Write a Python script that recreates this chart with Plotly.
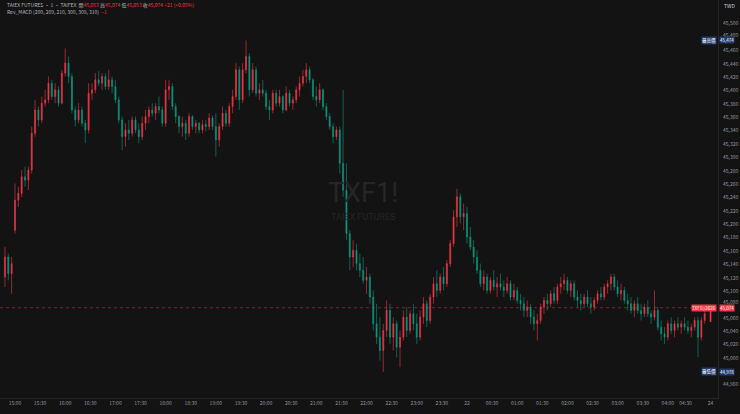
import plotly.graph_objects as go

# ---------------- data ----------------
# bar time positions, in minutes from 15:00 of the night session
pre_minutes = [-12, -8, -4]            # tail of the day session
night_minutes = list(range(0, 825, 4))  # night session, 4-minute candles
day_minutes = [831]                     # first bar of the 24th

pre_open = [45120, 45150, 45125]
pre_high = [45165, 45155, 45150]
pre_low = [45105, 45115, 45095]
pre_close = [45150, 45125, 45140]

night_open = [
    45190, 45235, 45245, 45270, 45265, 45280, 45335, 45370, 45355, 45380,
    45385, 45410, 45390, 45400, 45380, 45425, 45440, 45420, 45370, 45355,
    45370, 45350, 45340, 45395, 45400, 45415, 45410, 45420, 45405, 45415,
    45405, 45385, 45355, 45330, 45340, 45335, 45355, 45340, 45330, 45350,
    45360, 45370, 45365, 45375, 45370, 45350, 45400, 45405, 45375, 45360,
    45345, 45350, 45335, 45360, 45345, 45350, 45340, 45348, 45345, 45358,
    45345, 45325, 45345, 45365, 45350, 45375, 45390, 45430, 45385, 45430,
    45450, 45400, 45430, 45395, 45400, 45395, 45375, 45370, 45395, 45380,
    45390, 45370, 45395, 45380, 45385, 45400, 45410, 45420, 45430, 45415,
    45390, 45385, 45400, 45375, 45360, 45345, 45330, 45340, 45290, 45250,
    45185, 45150, 45160, 45140, 45130, 45115, 45120, 45090, 45050, 45030,
    45010, 45040, 45070, 45030, 45050, 45015, 45030, 45060, 45040, 45065,
    45050, 45030, 45060, 45080, 45055, 45090, 45110, 45100, 45120, 45110,
    45140, 45170, 45210, 45240, 45210, 45215, 45180, 45165, 45150, 45130,
    45110, 45120, 45100, 45115, 45105, 45110, 45105, 45100, 45110, 45090,
    45100, 45085, 45080, 45070, 45075, 45060, 45050, 45055, 45075, 45085,
    45080, 45095, 45085, 45105, 45110, 45115, 45100, 45110, 45090, 45085,
    45080, 45090, 45080, 45075, 45085, 45095, 45090, 45105, 45110, 45120,
    45105, 45095, 45100, 45085, 45080, 45070, 45080, 45070, 45065, 45075,
    45065, 45060, 45070, 45045, 45035, 45030, 45050, 45040, 45050, 45045,
    45050, 45045, 45040, 45045, 45055, 45030, 45055,
]
night_high = [
    45260, 45255, 45280, 45285, 45285, 45345, 45385, 45375, 45390, 45400,
    45420, 45415, 45410, 45405, 45430, 45462, 45450, 45425, 45375, 45380,
    45375, 45355, 45410, 45410, 45425, 45428, 45425, 45425, 45430, 45420,
    45415, 45390, 45360, 45350, 45355, 45360, 45360, 45350, 45360, 45370,
    45375, 45380, 45380, 45390, 45375, 45415, 45415, 45410, 45380, 45362,
    45360, 45355, 45365, 45362, 45355, 45352, 45355, 45355, 45365, 45362,
    45365, 45350, 45375, 45370, 45380, 45400, 45440, 45435, 45440, 45474,
    45455, 45440, 45435, 45410, 45415, 45400, 45385, 45400, 45400, 45400,
    45392, 45405, 45400, 45390, 45405, 45420, 45430, 45440, 45435, 45418,
    45405, 45410, 45402, 45380, 45365, 45350, 45345, 45345, 45400, 45290,
    45190, 45175, 45170, 45155, 45150, 45135, 45125, 45100, 45080, 45060,
    45050, 45085, 45080, 45060, 45055, 45040, 45070, 45075, 45070, 45080,
    45065, 45070, 45090, 45085, 45095, 45120, 45130, 45125, 45135, 45145,
    45175, 45220, 45252, 45245, 45230, 45225, 45195, 45175, 45160, 45140,
    45130, 45125, 45120, 45130, 45120, 45125, 45115, 45120, 45115, 45110,
    45105, 45095, 45090, 45085, 45080, 45070, 45065, 45080, 45090, 45095,
    45100, 45105, 45110, 45120, 45125, 45120, 45115, 45115, 45100, 45095,
    45095, 45100, 45090, 45090, 45100, 45105, 45110, 45115, 45125, 45125,
    45115, 45110, 45105, 45095, 45090, 45085, 45090, 45080, 45080, 45085,
    45070, 45100, 45075, 45055, 45045, 45055, 45060, 45055, 45060, 45055,
    45060, 45055, 45050, 45060, 45060, 45060, 45070,
]
night_low = [
    45185, 45225, 45240, 45255, 45250, 45275, 45330, 45345, 45350, 45375,
    45380, 45385, 45380, 45375, 45378, 45420, 45410, 45365, 45345, 45350,
    45345, 45320, 45335, 45385, 45395, 45405, 45400, 45400, 45400, 45395,
    45380, 45350, 45310, 45315, 45325, 45330, 45335, 45320, 45325, 45340,
    45350, 45360, 45355, 45365, 45345, 45345, 45385, 45370, 45350, 45335,
    45330, 45325, 45330, 45340, 45335, 45335, 45335, 45338, 45340, 45340,
    45300, 45315, 45340, 45345, 45345, 45365, 45385, 45370, 45380, 45425,
    45390, 45395, 45390, 45385, 45390, 45370, 45355, 45365, 45375, 45375,
    45365, 45368, 45375, 45370, 45380, 45390, 45405, 45410, 45410, 45385,
    45375, 45380, 45370, 45355, 45340, 45320, 45325, 45275, 45240, 45175,
    45130, 45135, 45130, 45120, 45110, 45095, 45080, 45040, 45020, 44995,
    44978, 45030, 45020, 45010, 45000, 44985, 45025, 45030, 45035, 45040,
    45020, 45025, 45050, 45045, 45050, 45080, 45090, 45095, 45100, 45105,
    45135, 45165, 45195, 45200, 45190, 45170, 45160, 45140, 45125, 45105,
    45100, 45095, 45095, 45100, 45090, 45100, 45090, 45095, 45085, 45085,
    45080, 45070, 45060, 45060, 45050, 45040, 45025, 45050, 45065, 45070,
    45075, 45080, 45080, 45095, 45100, 45095, 45090, 45085, 45075, 45070,
    45075, 45075, 45065, 45070, 45080, 45085, 45085, 45095, 45100, 45100,
    45090, 45085, 45080, 45070, 45065, 45060, 45065, 45055, 45060, 45060,
    45050, 45055, 45040, 45025, 45020, 45025, 45035, 45030, 45040, 45035,
    45040, 45035, 45030, 45040, 45000, 45025, 45050,
]
night_close = [
    45235, 45245, 45270, 45265, 45280, 45335, 45370, 45355, 45380, 45385,
    45410, 45390, 45400, 45380, 45425, 45440, 45420, 45370, 45355, 45370,
    45350, 45340, 45395, 45400, 45415, 45410, 45420, 45405, 45415, 45405,
    45385, 45355, 45330, 45340, 45335, 45355, 45340, 45330, 45350, 45360,
    45370, 45365, 45375, 45370, 45350, 45400, 45405, 45375, 45360, 45345,
    45350, 45335, 45360, 45345, 45350, 45340, 45348, 45345, 45358, 45345,
    45325, 45345, 45365, 45350, 45375, 45390, 45430, 45385, 45430, 45450,
    45400, 45430, 45395, 45400, 45395, 45375, 45370, 45395, 45380, 45390,
    45370, 45395, 45380, 45385, 45400, 45410, 45420, 45430, 45415, 45390,
    45385, 45400, 45375, 45360, 45345, 45330, 45340, 45290, 45250, 45185,
    45150, 45160, 45140, 45130, 45115, 45120, 45090, 45050, 45030, 45010,
    45040, 45070, 45030, 45050, 45015, 45030, 45060, 45040, 45065, 45050,
    45030, 45060, 45080, 45055, 45090, 45110, 45100, 45120, 45110, 45140,
    45170, 45210, 45240, 45210, 45215, 45180, 45165, 45150, 45130, 45110,
    45120, 45100, 45115, 45105, 45110, 45105, 45100, 45110, 45090, 45100,
    45085, 45080, 45070, 45075, 45060, 45050, 45055, 45075, 45085, 45080,
    45095, 45085, 45105, 45110, 45115, 45100, 45110, 45090, 45085, 45080,
    45090, 45080, 45075, 45085, 45095, 45090, 45105, 45110, 45120, 45105,
    45095, 45100, 45085, 45080, 45070, 45080, 45070, 45065, 45075, 45065,
    45060, 45070, 45045, 45035, 45030, 45050, 45040, 45050, 45045, 45050,
    45045, 45040, 45045, 45055, 45030, 45055, 45065,
]

day_open = [45053]
day_high = [45074]
day_low = [45053]
day_close = [45074]

# axis tick labels
time_tick_minutes = [0, 30, 60, 90, 120, 150, 180, 210, 240, 270, 300, 330, 360,
                     390, 420, 450, 480, 510, 540, 570, 600, 630, 660, 690, 720,
                     750, 780, 801, 831]
time_tick_labels = ["15:00", "15:30", "16:00", "16:30", "17:00", "17:30", "18:00",
                    "18:30", "19:00", "19:30", "20:00", "20:30", "21:00", "21:30",
                    "22:00", "22:30", "23:00", "23:30", "22", "00:30", "01:00",
                    "01:30", "02:00", "02:30", "03:00", "03:30", "04:00", "04:30", "24"]
price_ticks = [p for p in range(44960, 45501, 20) if p != 44980]

last_price = 45074
highest_price = 45474
lowest_price = 44978

# ---------------- styling ----------------
BG = "#131313"
UP = "#f23645"
DOWN = "#089981"
TXT = "#9598a1"
BLUE = "#223a6a"
FONT = "Noto Sans CJK TC, Roboto, sans-serif"

x = pre_minutes + night_minutes + day_minutes
o = pre_open + night_open + day_open
h = pre_high + night_high + day_high
l = pre_low + night_low + day_low
c = pre_close + night_close + day_close

fig = go.Figure(go.Candlestick(
    x=x, open=o, high=h, low=l, close=c,
    increasing=dict(line=dict(color=UP, width=0.6), fillcolor=UP),
    decreasing=dict(line=dict(color=DOWN, width=0.6), fillcolor=DOWN),
    whiskerwidth=0, hoverinfo="skip",
))

fig.update_layout(
    width=740, height=414,
    margin=dict(l=0, r=22, t=0, b=16),
    paper_bgcolor=BG, plot_bgcolor=BG,
    showlegend=False, boxgap=0.55,
    font=dict(family=FONT, color=TXT, size=5),
    xaxis=dict(
        range=[-17.9, 839.9], rangeslider=dict(visible=False),
        tickmode="array", tickvals=time_tick_minutes, ticktext=time_tick_labels,
        showgrid=False, zeroline=False, showline=True, linecolor="#262626",
        ticks="", tickfont=dict(size=5, color=TXT), fixedrange=True,
    ),
    yaxis=dict(
        side="right", range=[44939.0, 45534.4],
        showticklabels=False,
        showgrid=False, zeroline=False, showline=True, linecolor="#262626",
        ticks="", fixedrange=True,
    ),
)

# price-scale labels (those touching a marker label are nudged clear of it)
marker_prices = [last_price, highest_price, lowest_price]
for p in price_ticks:
    shift = 0
    for m in marker_prices:
        if 0 < p - m < 10:
            shift = 2
        elif 0 < m - p < 10:
            shift = -2
    fig.add_annotation(xref="paper", x=1.0, yref="y", y=p, text=f"{p:,}",
                       xanchor="left", yanchor="middle", showarrow=False,
                       xshift=3, yshift=shift,
                       font=dict(size=5, color=TXT, family=FONT))

# current-price dotted line
fig.add_shape(type="line", xref="paper", x0=0, x1=1, yref="y",
              y0=last_price, y1=last_price,
              line=dict(color="rgba(242,54,69,0.5)", width=1, dash="dot"))

def axis_label(price, text, bg):
    fig.add_annotation(xref="paper", x=1.0, yref="y", y=price, text=text,
                       xanchor="left", yanchor="middle", showarrow=False,
                       bgcolor=bg, borderpad=0, xshift=1,
                       font=dict(size=4.5, color="#ffffff", family=FONT))

def side_label(price, text, bg):
    fig.add_annotation(xref="paper", x=1.0, yref="y", y=price, text=text,
                       xanchor="right", yanchor="middle", showarrow=False,
                       bgcolor=bg, borderpad=0, xshift=-1,
                       font=dict(size=4.5, color="#ffffff", family=FONT))

axis_label(last_price, f"{last_price:,}", UP)
side_label(last_price, "TXF1!/2026", UP)
axis_label(highest_price, f"{highest_price:,}", BLUE)
side_label(highest_price, "最高價", BLUE)
axis_label(lowest_price, f"{lowest_price:,}", BLUE)
side_label(lowest_price, "最低價", BLUE)

# header legend lines
R = UP
hdr1 = ("TAIEX FUTURES · 1 · TAIFEX  "
        f"開<span style='color:{R}'>45,053</span> "
        f"高<span style='color:{R}'>45,074</span> "
        f"低<span style='color:{R}'>45,053</span> "
        f"收<span style='color:{R}'>45,074</span> "
        f"<span style='color:{R}'>+21 (+0.05%)</span>")
fig.add_annotation(xref="paper", yref="paper", x=0.007, y=0.9875, text=hdr1,
                   xanchor="left", yanchor="middle", showarrow=False,
                   font=dict(size=5, color="#b2b5be", family=FONT))
fig.add_annotation(xref="paper", yref="paper", x=0.007, y=0.972,
                   text="Rev_MACD (200, 209, 210, 300, 309, 310)  <span style='color:#f23645'>−1</span>",
                   xanchor="left", yanchor="middle", showarrow=False,
                   font=dict(size=5, color="#b2b5be", family=FONT))

# watermark
fig.add_annotation(xref="paper", yref="paper", x=0.505, y=0.515, text="TXF1!",
                   showarrow=False, xanchor="center", yanchor="middle",
                   font=dict(size=27, color="#262626", family="Roboto"))
fig.add_annotation(xref="paper", yref="paper", x=0.505, y=0.455, text="TAIEX FUTURES",
                   showarrow=False, xanchor="center", yanchor="middle",
                   font=dict(size=9, color="#262626", family="Roboto"))

# currency label top right
fig.add_annotation(xref="paper", yref="paper", x=1.0, y=0.985, text="TWD",
                   xanchor="left", yanchor="middle", showarrow=False, xshift=4,
                   font=dict(size=5, color="#d1d4dc", family=FONT))

fig.write_html("out.html",
               config={"displayModeBar": False},
               post_script="document.body.style.margin='0';"
                           "document.body.style.background='#131313';")
